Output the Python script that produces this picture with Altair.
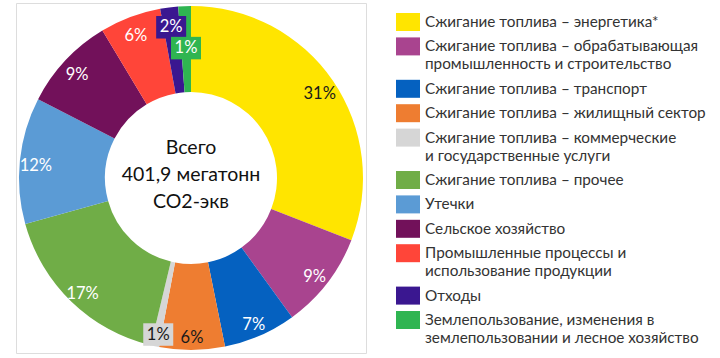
import altair as alt
import pandas as pd

FONT = "Lato"

categories = [
    "Сжигание топлива – энергетика*",
    "Сжигание топлива – обрабатывающая|промышленность и строительство",
    "Сжигание топлива – транспорт",
    "Сжигание топлива – жилищный сектор",
    "Сжигание топлива – коммерческие|и государственные услуги",
    "Сжигание топлива – прочее",
    "Утечки",
    "Сельское хозяйство",
    "Промышленные процессы и|использование продукции",
    "Отходы",
    "Землепользование, изменения в|землепользовании и лесное хозяйство",
]
shares = [31.2, 9.2, 6.9, 6.2, 0.8, 17.1, 12.0, 8.9, 5.8, 1.7, 1.2]
pct_labels = ["31%", "9%", "7%", "6%", "1%", "17%", "12%", "9%", "6%", "2%", "1%"]
colors = ["#FFE500", "#A9448F", "#0561C0", "#EE7D31", "#D6D6D6", "#70AD47",
          "#5B9BD5", "#72115A", "#FF4539", "#3A1790", "#2FB551"]
center_lines = ["Всего", "401,9 мегатонн", "CO2-экв"]

df = pd.DataFrame({
    "category": categories,
    "share": shares,
    "label": pct_labels,
    "order": list(range(len(categories))),
})

dark_text = [categories[0], categories[3], categories[4]]
dark_expr = "indexof([" + ",".join("'" + c + "'" for c in dark_text) + "], datum.category) >= 0 ? '#1a1a1a' : '#ffffff'"
inner_label = categories[10]

BOX = "M-1,-0.75H1V0.75H-1Z"

color_scale = alt.Scale(domain=categories, range=colors)

base = alt.Chart(df)

arc = base.mark_arc(outerRadius=172, innerRadius=86).encode(
    theta=alt.Theta("share:Q", stack=True),
    order=alt.Order("order:Q", sort="ascending"),
    color=alt.Color(
        "category:N",
        scale=color_scale,
        legend=alt.Legend(
            title=None,
            orient="none",
            legendX=380,
            legendY=7,
            symbolType=BOX,
            symbolSize=576,
            symbolStrokeWidth=0,
            labelFont=FONT,
            labelFontSize=15.3,
            labelColor="#333333",
            labelLimit=400,
            labelOffset=5,
            labelExpr="split(datum.label, '|')",
            rowPadding=3.4,
            padding=0,
        ),
    ),
)

pos = base.transform_window(
    cum="sum(share)", sort=[alt.SortField("order")], frame=[None, 0]
).transform_joinaggregate(
    total="sum(share)"
).transform_calculate(
    ang="(datum.cum - datum.share / 2) / datum.total * 2 * PI",
    rad="datum.category == '" + inner_label + "' ? 134 : 156",
).transform_calculate(
    lx="datum.rad * sin(datum.ang)",
    ly="datum.rad * cos(datum.ang) - 4",
    tcolor=dark_expr,
)

xs = alt.Scale(domain=[-175, 175], nice=False, zero=False)
ys = alt.Scale(domain=[-175, 175], nice=False, zero=False)

boxes = pos.transform_filter("datum.share < 2").mark_point(
    shape=BOX, size=900, filled=True, opacity=1, strokeWidth=0
).encode(
    x=alt.X("lx:Q", scale=xs, axis=None),
    y=alt.Y("ly:Q", scale=ys, axis=None),
    color=alt.Color("category:N", scale=color_scale),
)

labels = pos.mark_text(font=FONT, fontSize=16.5, baseline="middle", align="center").encode(
    x=alt.X("lx:Q", scale=xs, axis=None),
    y=alt.Y("ly:Q", scale=ys, axis=None),
    text="label:N",
    color=alt.Color("tcolor:N", scale=None),
)

center = alt.Chart(alt.Data(values=[{}])).mark_text(
    text=center_lines, font=FONT, fontSize=19.5, lineHeight=27,
    baseline="middle", align="center", color="#111111", dy=-30
).encode(
    x=alt.datum(0),
    y=alt.datum(0),
)

chart = alt.layer(arc, boxes, labels, center).properties(
    width=350, height=350,
    autosize=alt.AutoSizeParams(type="none"),
    padding={"left": 16, "top": 3, "right": 354, "bottom": 5},
).configure_view(stroke=None).configure(
    style={"guide-label": {"lineHeight": 18}}
)

chart.save("out.html", embed_options={"renderer": "svg", "actions": False})
